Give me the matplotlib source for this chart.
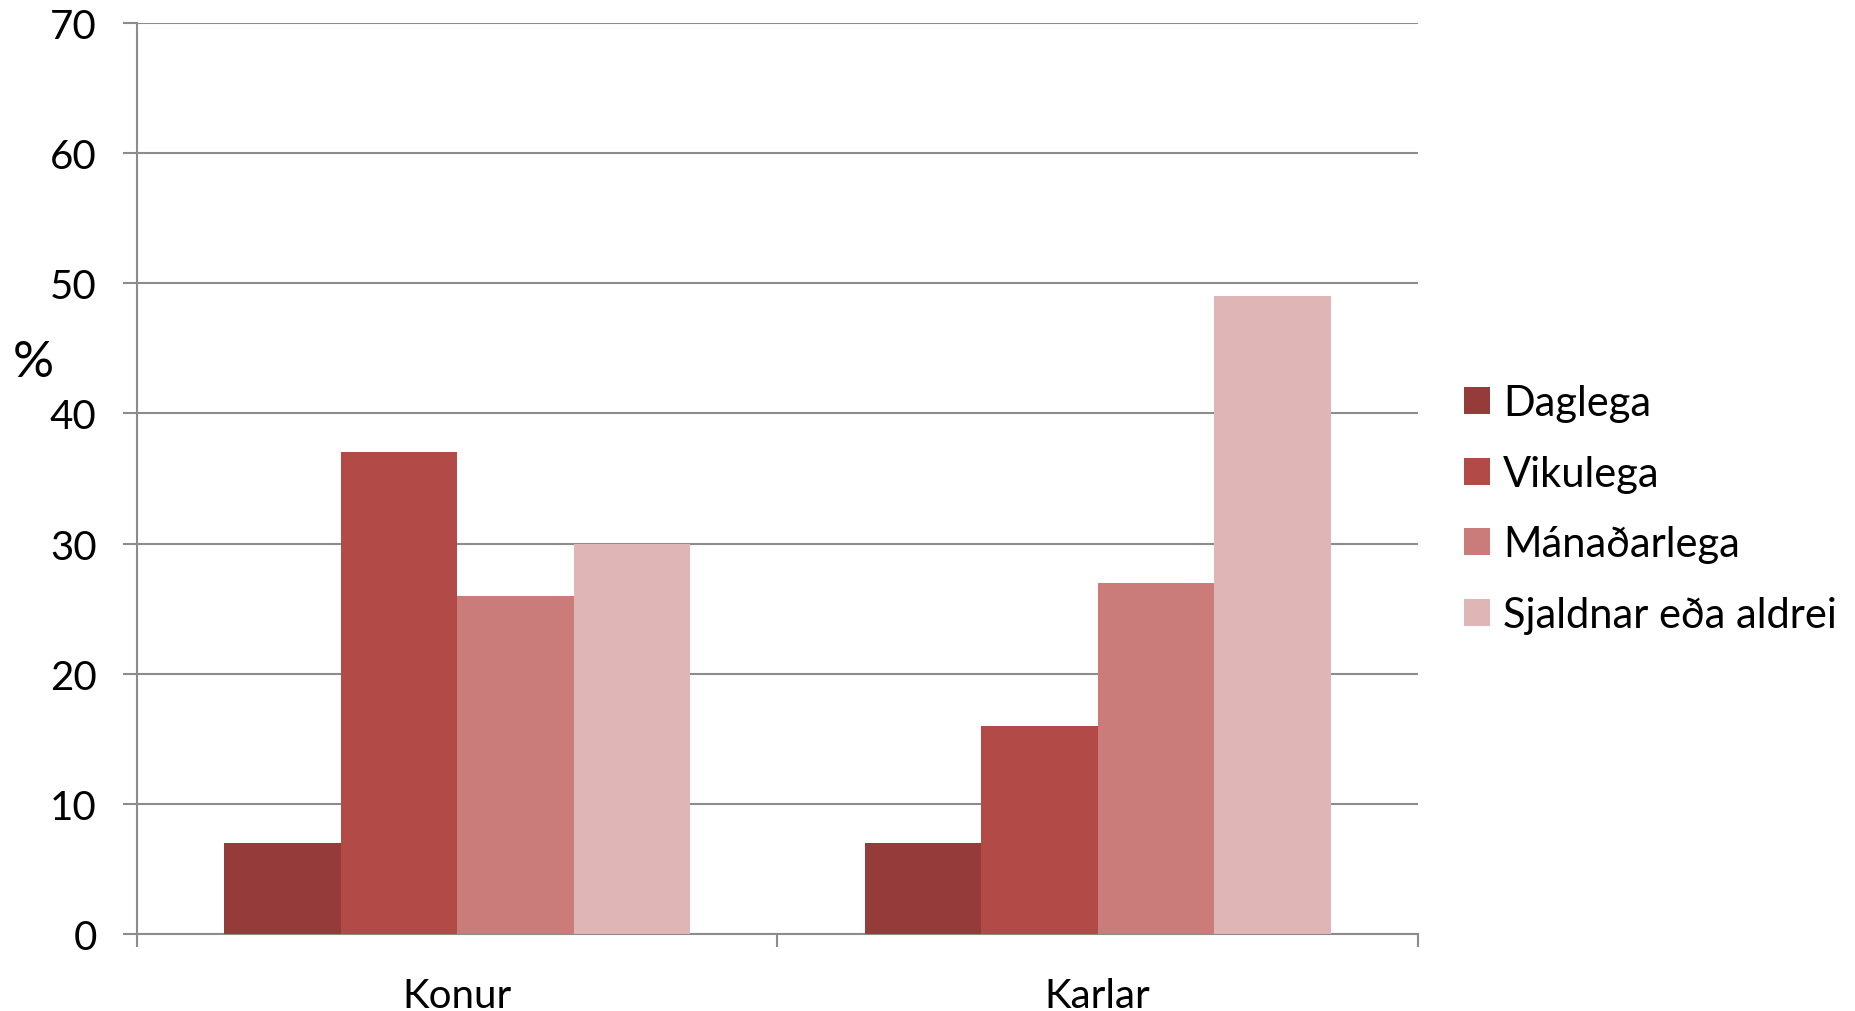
import numpy as np
import matplotlib.pyplot as plt
from matplotlib.patches import Patch

categories = ["Konur", "Karlar"]
series = ["Daglega", "Vikulega", "Mánaðarlega", "Sjaldnar eða aldrei"]
daglega = [7, 7]
vikulega = [37, 16]
manadarlega = [26, 27]
sjaldnar = [30, 49]
values = [daglega, vikulega, manadarlega, sjaldnar]
colors = ["#953B3A", "#B24A48", "#CA7C7B", "#DFB5B5"]

plt.rcParams['font.family'] = ['Lato', 'DejaVu Sans']

fig = plt.figure(figsize=(18.56, 10.12), dpi=100)
ax = fig.add_axes([137/1856, 1 - 935/1012, (1418 - 137)/1856, (935 - 24)/1012])

x = np.arange(len(categories))
w = 1 / 5.5
for i, (vals, c) in enumerate(zip(values, colors)):
    ax.bar(x + (i - 1.5) * w, vals, width=w, color=c, label=series[i], zorder=3)

grid_c = "#8C8C8C"
ax.set_ylim(0, 70)
ax.set_yticks(np.arange(0, 71, 10))
ax.set_xlim(-0.5, 1.5)
ax.yaxis.grid(True, color=grid_c, linewidth=1.5, zorder=0)
ax.set_xticks([-0.5, 0.5, 1.5])
ax.set_xticklabels([])
ax.set_xticks(x, minor=True)
ax.set_xticklabels(categories, minor=True, fontsize=29)
ax.tick_params(axis='x', which='minor', length=0, pad=31)
ax.tick_params(axis='x', which='major', length=9, width=1.5, color=grid_c)
ax.tick_params(axis='y', length=10, width=1.5, color=grid_c, labelsize=29, pad=19)

for s in ['top', 'right']:
    ax.spines[s].set_visible(False)
for s in ['left', 'bottom']:
    ax.spines[s].set_color(grid_c)
    ax.spines[s].set_linewidth(1.5)

fig.text(33/1856, 1 - 363/1012, "%", fontsize=37, ha='center', va='center')

handles = [Patch(facecolor=c, label=s) for c, s in zip(colors, series)]
fig.legend(handles=handles, loc='center left', bbox_to_anchor=(1464/1856, 1 - 510/1012),
           frameon=False, fontsize=30, handlelength=0.62, handleheight=0.62,
           handletextpad=0.32, labelspacing=0.78, borderpad=0, borderaxespad=0)

fig.savefig("out.png", dpi=100)
